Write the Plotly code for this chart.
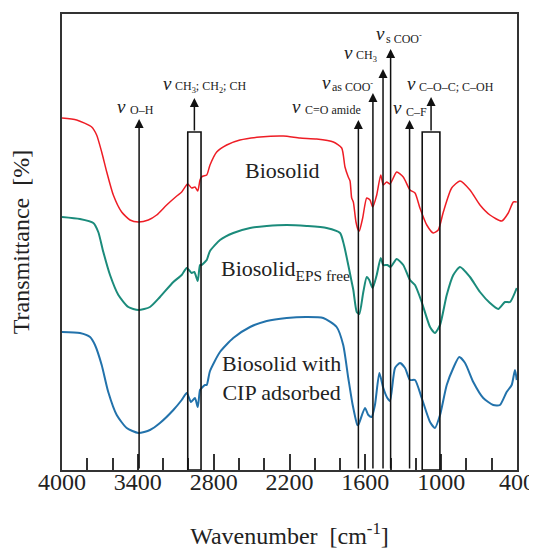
import plotly.graph_objects as go

# ---------------- data ----------------
# y values are relative transmittance in arbitrary units (curves are offset)
wn_bio = [4000, 3884, 3765, 3726, 3686, 3646, 3594, 3528, 3462, 3396, 3317, 3251, 3172, 3092, 3053,
          3006, 2974, 2948, 2926, 2908, 2895, 2882, 2855, 2829, 2776, 2697, 2592, 2433, 2249, 2117,
          1985, 1853, 1787, 1761, 1735, 1721, 1708, 1695, 1674, 1656, 1648, 1621, 1589, 1563, 1542,
          1510, 1478, 1458, 1431, 1405, 1352, 1300, 1247, 1207, 1168, 1114, 1062, 1023, 983, 917,
          851, 772, 693, 614, 521, 469, 429, 402]
t_bio = [352, 350, 343, 335, 318, 298, 275, 258, 250, 248, 250, 255, 265, 274, 278,
         286, 282, 283, 279, 290, 293, 294, 295, 305, 318, 325, 330, 333, 334, 332,
         331, 328, 322, 303, 293, 289, 272, 268, 248, 240, 239, 252, 272, 270, 263,
         275, 295, 285, 288, 286, 298, 293, 280, 277, 262, 245, 237, 240, 258, 282,
         289, 280, 265, 255, 249, 257, 268, 268]

wn_eps = [4000, 3858, 3752, 3713, 3673, 3620, 3554, 3475, 3396, 3304, 3225, 3119, 3053, 3013, 2974,
          2953, 2926, 2908, 2895, 2869, 2855, 2829, 2750, 2645, 2512, 2380, 2222, 2064, 1906, 1800,
          1769, 1735, 1708, 1695, 1668, 1648, 1616, 1589, 1569, 1542, 1510, 1478, 1458, 1426, 1400,
          1352, 1300, 1247, 1207, 1154, 1088, 1049, 1009, 956, 904, 851, 772, 693, 614, 548,
          495, 455, 402]
t_eps = [253, 251, 247, 238, 218, 195, 175, 163, 160, 163, 173, 188, 195, 202, 197,
         198, 189, 205, 205, 208, 210, 219, 230, 237, 242, 244, 245, 244, 242, 237,
         225, 205, 188, 180, 158, 156, 178, 193, 190, 182, 195, 212, 205, 205, 203,
         211, 205, 190, 185, 168, 143, 137, 145, 175, 195, 203, 193, 178, 167, 161,
         168, 168, 182]

wn_cip = [4000, 3858, 3778, 3739, 3686, 3634, 3567, 3488, 3396, 3304, 3225, 3119, 3053, 3013, 2979,
          2948, 2926, 2908, 2895, 2869, 2855, 2829, 2750, 2645, 2512, 2380, 2222, 2064, 1933, 1827,
          1775, 1735, 1700, 1663, 1656, 1603, 1576, 1550, 1524, 1489, 1458, 1426, 1405, 1365, 1326,
          1286, 1247, 1207, 1154, 1088, 1049, 1009, 956, 904, 857, 811, 746, 667, 588, 535,
          482, 442, 416, 402]
t_cip = [138, 137, 133, 125, 105, 78, 55, 42, 37, 40, 47, 60, 70, 77, 68,
         72, 63, 80, 82, 85, 85, 99, 118, 132, 143, 149, 152, 153, 152, 143,
         125, 92, 65, 45, 45, 62, 55, 53, 65, 97, 82, 72, 69, 102, 107,
         102, 90, 90, 72, 48, 42, 55, 85, 102, 113, 107, 88, 72, 65, 65,
         78, 85, 100, 90]

series_names = ["Biosolid", "Biosolid EPS free", "Biosolid with CIP adsorbed"]
series_colors = ["#ee1d25", "#1b8b7b", "#2272ab"]
series_widths = [1.5, 2.0, 2.0]

# band assignments: (wavenumber, arrow tip height)
band_lines_wn = [3390, 1655, 1540, 1460, 1400, 1250]
band_lines_tip = [351, 350, 377, 401, 421, 350]
# boxed bands: (high wn, low wn, box top, arrow tip)
box_hi = [3005, 1150]
box_lo = [2900, 1010]
box_top = [338, 338]
box_tip = [372, 373]

# labels: (nu x, nu y, sub x, sub y, sub text)
lab_nu_x = [3570, 3206, 2185, 1952, 1776, 1525, 1386, 1280]
lab_nu_y = [364, 387, 364, 388, 418, 437, 363, 387]
lab_sub_x = [3470, 3114, 2085, 1874, 1682, 1444, 1286, 1186]
lab_sub_y = [360, 383, 360, 384, 414, 432, 358, 383]
lab_sub_text = ["O–H", "CH<sub>3</sub>; CH<sub>2</sub>; CH", "C=O amide", "as COO<sup>-</sup>",
                "CH<sub>3</sub>", "s COO<sup>-</sup>", "C–F", "C–O–C; C–OH"]

x_ticks = [4000, 3400, 2800, 2200, 1600, 1000, 400]

# ---------------- figure ----------------
FONT = "Liberation Serif, Times New Roman, serif"
TXT = "#222222"
fig = go.Figure()

for wn, t, name, c, w in zip([wn_bio, wn_eps, wn_cip], [t_bio, t_eps, t_cip],
                             series_names, series_colors, series_widths):
    fig.add_trace(go.Scatter(x=wn, y=t, mode="lines", name=name,
                             line=dict(color=c, width=w, shape="spline", smoothing=0.6)))

ann = []
# plain band arrows
for x, tip in zip(band_lines_wn, band_lines_tip):
    ann.append(dict(x=x, y=tip, ax=x, ay=0, xref="x", yref="y", axref="x", ayref="y",
                    text="", showarrow=True, arrowhead=2, arrowsize=1.2, arrowwidth=1.5,
                    arrowcolor="#111111", standoff=0, startstandoff=0))
shapes = []
for hi, lo, top, tip in zip(box_hi, box_lo, box_top, box_tip):
    shapes.append(dict(type="rect", xref="x", yref="y", x0=hi, x1=lo, y0=0, y1=top,
                       line=dict(color="#111111", width=1.6), fillcolor="rgba(0,0,0,0)"))
    mid = (hi + lo) / 2
    ann.append(dict(x=mid, y=tip, ax=mid, ay=top, xref="x", yref="y", axref="x", ayref="y",
                    text="", showarrow=True, arrowhead=2, arrowsize=1.2, arrowwidth=1.5,
                    arrowcolor="#111111", standoff=0, startstandoff=0))

for nx, ny, sx, sy, st in zip(lab_nu_x, lab_nu_y, lab_sub_x, lab_sub_y, lab_sub_text):
    ann.append(dict(x=nx, y=ny, xref="x", yref="y", text="<i>ν</i>", showarrow=False,
                    xanchor="left", yanchor="middle", borderpad=0,
                    font=dict(family=FONT, size=19, color=TXT)))
    ann.append(dict(x=sx, y=sy, xref="x", yref="y", text=st, showarrow=False,
                    xanchor="left", yanchor="middle", borderpad=0,
                    font=dict(family=FONT, size=12, color=TXT)))

# curve labels
ann.append(dict(x=2259, y=300, text="Biosolid", showarrow=False, xanchor="center", yanchor="middle",
                font=dict(family=FONT, size=22, color=TXT)))
ann.append(dict(x=2755, y=200, text="Biosolid<sub>EPS free</sub>", showarrow=False, xanchor="left",
                yanchor="middle", font=dict(family=FONT, size=22, color=TXT)))
ann.append(dict(x=2267, y=92, text="Biosolid with<br>CIP adsorbed", showarrow=False, xanchor="center",
                yanchor="middle", font=dict(family=FONT, size=22, color=TXT)))

# the page body adds an 8px offset, so the figure is sized to fit the 537x551 window
fig.update_layout(
    width=529, height=543,
    margin=dict(l=54, r=20, t=6, b=81),
    paper_bgcolor="white", plot_bgcolor="white",
    showlegend=False,
    annotations=ann, shapes=shapes,
    font=dict(family=FONT, color=TXT),
)
fig.update_xaxes(
    range=[4000, 400], tickvals=x_ticks, ticktext=[str(v) for v in x_ticks],
    ticks="inside", ticklen=16, tickwidth=1.5, tickcolor="#333333",
    minor=dict(dtick=200, tick0=400, ticks="inside", ticklen=12, tickwidth=1.5, tickcolor="#333333"),
    showline=True, linecolor="#333333", linewidth=2, mirror=True,
    showgrid=False, zeroline=False, automargin=False,
    tickfont=dict(family=FONT, size=24, color=TXT), ticklabelstandoff=-11,
    title=dict(text="Wavenumber  [cm<sup>-1</sup>]", font=dict(family=FONT, size=24, color=TXT), standoff=33),
)
fig.update_yaxes(
    range=[0, 456], showticklabels=False, ticks="",
    showline=True, linecolor="#333333", linewidth=2, mirror=True,
    showgrid=False, zeroline=False, automargin=False,
    title=dict(text="Transmittance  [%]", font=dict(family=FONT, size=24, color=TXT), standoff=25),
)

fig.write_html("out.html")
